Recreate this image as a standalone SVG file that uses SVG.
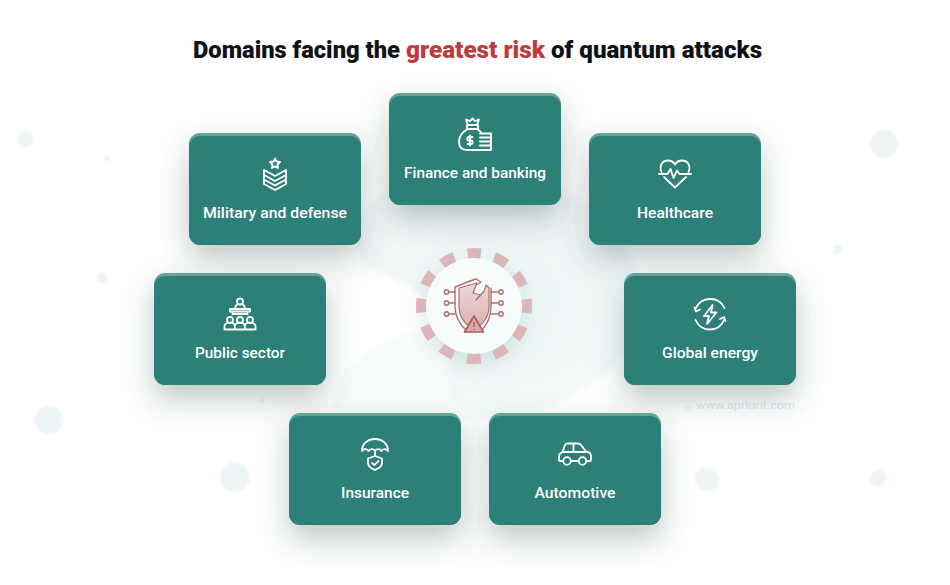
<svg xmlns="http://www.w3.org/2000/svg" width="950" height="585" viewBox="0 0 950 585">
<style>
.t{font-family:"Roboto","Liberation Sans",sans-serif;font-weight:900;font-size:24px;fill:#0e1116}
.l{font-family:"Roboto","Liberation Sans",sans-serif;font-weight:500;font-size:15px;fill:#fff;text-anchor:middle}
.i{fill:none;stroke:#fff;stroke-width:1.8;stroke-linejoin:round;stroke-linecap:round}
.top{fill:#67a39b}
.card{fill:#2d8078}
.dot{fill:#ecf6f6}
.s{fill:none;stroke:#b56f70;stroke-width:1.4;stroke-linejoin:round;stroke-linecap:round}
</style>
<defs>
<filter id="sh" x="-50%" y="-50%" width="200%" height="220%"><feDropShadow dx="0" dy="14" stdDeviation="15" flood-color="#2a4445" flood-opacity="0.3"/></filter>
<filter id="blur" x="-20%" y="-20%" width="140%" height="140%"><feGaussianBlur stdDeviation="2.500"/></filter>
<filter id="soft" x="-50%" y="-50%" width="200%" height="200%"><feGaussianBlur stdDeviation="1"/></filter>
<filter id="glow" x="-50%" y="-50%" width="200%" height="200%"><feDropShadow dx="0" dy="8" stdDeviation="12" flood-color="#8fb7b7" flood-opacity="0.4"/></filter>
<linearGradient id="sg" x1="0" y1="0" x2="0" y2="1"><stop offset="0" stop-color="#ecd8d8"/><stop offset="1" stop-color="#dcb0b0"/></linearGradient>
<radialGradient id="bg" cx="0.5" cy="0.5" r="0.6"><stop offset="0" stop-color="#e9f4f4"/><stop offset="1" stop-color="#f5fafa"/></radialGradient>
</defs>
<rect width="950" height="585" fill="#fff"/>
<g id="background">
<path d="M352 240C350 205 395 175 470 172C570 168 640 230 640 300C640 375 555 418 480 418C425 418 415 385 418 365C424 338 440 325 424 300C405 275 365 282 352 240Z" fill="url(#bg)" filter="url(#blur)"/>
<path d="M334 412C330 375 365 345 405 335C440 322 450 345 450 360C445 395 460 418 480 418C420 420 370 420 334 412Z" fill="#f6fbfb" filter="url(#blur)"/>
<g filter="url(#soft)"><circle class="dot" cx="26" cy="139" r="8"/><circle class="dot" cx="107" cy="158" r="3"/><circle class="dot" cx="102" cy="278" r="5"/><circle class="dot" cx="49" cy="420" r="14"/><circle class="dot" cx="235" cy="477" r="15"/><circle class="dot" cx="262" cy="400" r="3"/><circle class="dot" cx="884" cy="144" r="14"/><circle class="dot" cx="838" cy="249" r="5"/><circle class="dot" cx="707" cy="479" r="12"/><circle class="dot" cx="878" cy="478" r="8"/><circle class="dot" cx="688" cy="408" r="3"/></g>
<text x="696" y="409" font-family="Roboto,'Liberation Sans',sans-serif" font-size="11.500" fill="#d9ebec" textLength="99" lengthAdjust="spacingAndGlyphs">www.apriorit.com</text>
</g>
<text class="t" x="193" y="58" textLength="207" lengthAdjust="spacingAndGlyphs">Domains facing the</text>
<text class="t" x="406" y="58" textLength="139" lengthAdjust="spacingAndGlyphs" style="fill:#be3a3c">greatest risk</text>
<text class="t" x="551" y="58" textLength="211" lengthAdjust="spacingAndGlyphs">of quantum attacks</text>
<g id="center">
<circle cx="474" cy="306" r="48" fill="#f6fbfc" filter="url(#glow)"/>
<circle cx="474" cy="306" r="53" fill="none" stroke="#dcb7b8" stroke-width="10" stroke-dasharray="14 13.750" stroke-dashoffset="7" transform="rotate(-90 474 306)"/>
<path d="M459 288L477 283L473 293L481 295L476 300L484 291L486 285L489 288V306C489 318 482 325 474 329C466 325 459 318 459 306Z" fill="url(#sg)" stroke="#b56f70" stroke-width="1.200" stroke-linejoin="round"/>
<path class="s" d="M470 281L455 287V306C455 318 461 326 467 331"/>
<path class="s" d="M491 288V306C491 318 486 326 481 331"/>
<path class="s" d="M470 281L476 279L481 282L478 284"/>
<path class="s" d="M455 292H449M455 303H449M455 314H449M491 292H498M491 303H498M491 314H498"/>
<circle class="s" cx="446.500" cy="292" r="2.200"/><circle class="s" cx="446.500" cy="303" r="2.200"/><circle class="s" cx="446.500" cy="314" r="2.200"/><circle class="s" cx="501" cy="292" r="2.200"/><circle class="s" cx="501" cy="303" r="2.200"/><circle class="s" cx="501" cy="314" r="2.200"/>
<path d="M474 316L483.500 332H464.500Z" fill="#d9a9a9" stroke="#a95c5e" stroke-width="1.600" stroke-linejoin="round"/>
<path d="M474 322V327M474 329V330" stroke="#a95c5e" stroke-width="1.400" fill="none"/>
</g>
<g id="node-finance">
<rect class="top" x="389" y="93" width="172" height="112" rx="11" filter="url(#sh)"/><rect class="card" x="389" y="96" width="172" height="109" rx="11"/>
<g class="i" transform="translate(459 118)"><path d="M9 11C3 14 0 19 0 24C0 29 3 32 8 32H21M18 11C20 12 22 14 23 15.500"/><rect x="8" y="7" width="11" height="4"/><path d="M9 7L7 1.500L11 3L13.500 0.500L16 3L20 1.500L18 7"/><path d="M21 15.500H32V32H21M21 19.500H32M21 23.500H32M21 27.500H32"/><path d="M13.500 19H10A1.700 1.700 0 0 0 10 22.500H12A1.700 1.700 0 0 1 12 26H8.500M11 17.500V27.500"/></g>
<text class="l" x="475" y="178" textLength="142" lengthAdjust="spacingAndGlyphs">Finance and banking</text>
</g>
<g id="node-military">
<rect class="top" x="189" y="133" width="172" height="112" rx="11" filter="url(#sh)"/><rect class="card" x="189" y="136" width="172" height="109" rx="11"/>
<g class="i" transform="translate(259 158)"><path d="M16 0.500L17.500 3.500L21 4L18.500 6.500L19 10L16 8.300L13 10L13.500 6.500L11 4L14.500 3.500Z"/><path d="M5 12L16 18L27 12V26L16 32L5 26ZM5 17L16 23L27 17M5 21.500L16 27.500L27 21.500"/></g>
<text class="l" x="275" y="218" textLength="144" lengthAdjust="spacingAndGlyphs">Military and defense</text>
</g>
<g id="node-healthcare">
<rect class="top" x="589" y="133" width="172" height="112" rx="11" filter="url(#sh)"/><rect class="card" x="589" y="136" width="172" height="109" rx="11"/>
<g class="i" transform="translate(659 158)"><path d="M2.500 14C0 8 3 2.500 9 2.500C12 2.500 14.500 4 16 6.500C17.500 4 20 2.500 23 2.500C29 2.500 32 8 29.500 14M5 19L16 29.500L27 19M0 16H8.500L11.500 11L14.500 20L18 12.500L20.500 16H32"/></g>
<text class="l" x="675" y="218" textLength="76" lengthAdjust="spacingAndGlyphs">Healthcare</text>
</g>
<g id="node-public">
<rect class="top" x="154" y="273" width="172" height="112" rx="11" filter="url(#sh)"/><rect class="card" x="154" y="276" width="172" height="109" rx="11"/>
<g class="i" transform="translate(224 298)"><circle cx="16" cy="3.500" r="3"/><path d="M13 6.500C12 7.500 11 8.500 11 11M19 6.500C20 7.500 21 8.500 21 11"/><path d="M6 11H26V13.500H6ZM8.500 13.500V16H23.500V13.500"/><circle cx="6" cy="22" r="3"/><circle cx="16" cy="22" r="3"/><circle cx="26" cy="22" r="3"/><path d="M0.500 31.500V27.500C0.500 26 2 25.500 3.500 25M8.500 25C10 25.500 11 26 11 31.500M13.500 25C12 25.500 11 26 11 27.500M18.500 25C20 25.500 21 26 21 31.500M23.500 25C22 25.500 21 26 21 27.500M31.500 31.500V27.500C31.500 26 30 25.500 28.500 25M0.500 31.500H31.500"/></g>
<text class="l" x="240" y="358" textLength="90" lengthAdjust="spacingAndGlyphs">Public sector</text>
</g>
<g id="node-energy">
<rect class="top" x="624" y="273" width="172" height="112" rx="11" filter="url(#sh)"/><rect class="card" x="624" y="276" width="172" height="109" rx="11"/>
<g class="i" transform="translate(694 298)"><path d="M1.500 11C4 5 9 1 16 1C23 1 28 4.500 30.500 10M30.500 21C28 27.500 23 31.500 16 31.500C9 31.500 4 27.500 1.500 22M0.500 9.500L2 13.500L6 11.500M31.500 23L30 19L26 21"/><path d="M18.500 7L10 18H15L13 26L22.500 14.500H17Z"/></g>
<text class="l" x="710" y="358" textLength="96" lengthAdjust="spacingAndGlyphs">Global energy</text>
</g>
<g id="node-insurance">
<rect class="top" x="289" y="413" width="172" height="112" rx="11" filter="url(#sh)"/><rect class="card" x="289" y="416" width="172" height="109" rx="11"/>
<g class="i" transform="translate(359 438)"><path d="M3 13C3 5.500 9 1 16 1C23 1 29 5.500 29 13C27 10.500 24 10.500 22.500 13C21 10.500 18 10.500 16 12.500C14 10.500 11 10.500 9.500 13C8 10.500 5 10.500 3 13ZM16 12.500V18"/><path d="M16 18L23 20.500V25C23 28.500 20 30.500 16 32C12 30.500 9 28.500 9 25V20.500Z"/><path d="M13 25L15.500 27L19.500 22.800"/></g>
<text class="l" x="375" y="498" textLength="68" lengthAdjust="spacingAndGlyphs">Insurance</text>
</g>
<g id="node-automotive">
<rect class="top" x="489" y="413" width="172" height="112" rx="11" filter="url(#sh)"/><rect class="card" x="489" y="416" width="172" height="109" rx="11"/>
<g class="i" transform="translate(559 438)"><path d="M4 23H1C0.500 23 0 22.500 0 22V18C0 16 1 15 3.500 14L6 7C6.500 6 7.500 5.500 8.500 5.500H19C20 5.500 21 6 22 7L27 13.500C30 14 32 15.500 32 18V22C32 22.500 31.500 23 31 23H27.500M12 23H19.500M3.500 14H27M14.500 5.500V14"/><circle cx="8" cy="23" r="3.800"/><circle cx="23.500" cy="23" r="3.800"/></g>
<text class="l" x="575" y="498" textLength="81" lengthAdjust="spacingAndGlyphs">Automotive</text>
</g>
</svg>
